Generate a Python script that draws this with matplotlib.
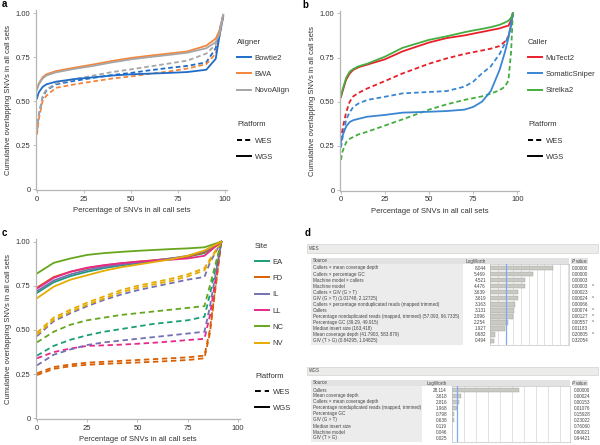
import numpy as np
import matplotlib.pyplot as plt
from matplotlib.lines import Line2D
from matplotlib.patches import Rectangle

plt.rcParams['font.family'] = ['Liberation Sans', 'DejaVu Sans']

# ---- panel a data ----
a_x = [0, 1, 3, 5, 10, 20, 30, 40, 50, 60, 70, 80, 90, 95, 97, 99]
a_aligners = ['Bowtie2', 'BWA', 'NovoAlign']
a_wgs = {
    'Bowtie2': [0.515, 0.55, 0.58, 0.595, 0.61, 0.625, 0.635, 0.645, 0.652, 0.656, 0.66, 0.665, 0.678, 0.74, 0.87, 0.98],
    'BWA': [0.57, 0.60, 0.635, 0.652, 0.67, 0.69, 0.708, 0.728, 0.745, 0.758, 0.77, 0.782, 0.815, 0.855, 0.90, 0.99],
    'NovoAlign': [0.565, 0.595, 0.628, 0.645, 0.663, 0.683, 0.70, 0.72, 0.737, 0.75, 0.762, 0.775, 0.80, 0.835, 0.88, 0.99],
}
a_wes = {
    'Bowtie2': [0.33, 0.42, 0.52, 0.56, 0.595, 0.615, 0.632, 0.648, 0.66, 0.675, 0.688, 0.70, 0.72, 0.80, 0.90, 0.99],
    'BWA': [0.31, 0.40, 0.50, 0.53, 0.575, 0.595, 0.612, 0.628, 0.64, 0.655, 0.668, 0.685, 0.71, 0.77, 0.87, 0.99],
    'NovoAlign': [0.33, 0.42, 0.53, 0.565, 0.60, 0.625, 0.645, 0.665, 0.68, 0.697, 0.713, 0.73, 0.77, 0.82, 0.90, 0.99],
}
a_colors = ['#1f6cc8', '#f5853a', '#a6a6a6']

# ---- panel b data ----
b_x = [0, 1, 3, 5, 7, 10, 15, 25, 35, 50, 60, 70, 75, 80, 85, 90, 93, 95, 96.5, 97.5]
b_callers = ['MuTect2', 'SomaticSniper', 'Strelka2']
b_wgs = {
    'MuTect2': [0.525, 0.56, 0.625, 0.66, 0.68, 0.695, 0.71, 0.74, 0.785, 0.835, 0.86, 0.875, 0.885, 0.895, 0.905, 0.915, 0.925, 0.93, 0.96, 1.0],
    'SomaticSniper': [0.27, 0.31, 0.36, 0.385, 0.395, 0.403, 0.415, 0.425, 0.438, 0.443, 0.447, 0.455, 0.47, 0.50, 0.56, 0.68, 0.78, 0.86, 0.94, 1.0],
    'Strelka2': [0.53, 0.57, 0.635, 0.67, 0.685, 0.70, 0.715, 0.755, 0.805, 0.85, 0.87, 0.893, 0.903, 0.912, 0.922, 0.935, 0.948, 0.958, 0.975, 1.0],
}
b_wes = {
    'MuTect2': [0.28, 0.35, 0.44, 0.50, 0.53, 0.55, 0.575, 0.617, 0.66, 0.715, 0.745, 0.77, 0.78, 0.79, 0.80, 0.815, 0.84, 0.87, 0.93, 1.0],
    'SomaticSniper': [0.24, 0.30, 0.40, 0.44, 0.47, 0.49, 0.51, 0.528, 0.547, 0.555, 0.56, 0.585, 0.613, 0.66, 0.70, 0.77, 0.83, 0.87, 0.93, 1.0],
    'Strelka2': [0.17, 0.22, 0.27, 0.29, 0.30, 0.315, 0.33, 0.365, 0.40, 0.455, 0.485, 0.51, 0.52, 0.53, 0.545, 0.565, 0.585, 0.62, 0.78, 1.0],
}
b_colors = ['#e8202a', '#3b86d1', '#45ad3f']

# ---- panel c data ----
c_x = [0, 8.3, 16.7, 25, 33.3, 41.7, 50, 58.3, 66.7, 75, 83.3, 91.7]
c_x_wes = [0, 8.3, 16.7, 25, 33.3, 41.7, 50, 58.3, 66.7, 75, 83.3, 86, 91.7]
c_sites = ['EA', 'FD', 'IL', 'LL', 'NC', 'NV']
c_wgs = {
    'EA': [0.71, 0.77, 0.805, 0.83, 0.85, 0.865, 0.878, 0.89, 0.90, 0.915, 0.935, 1.0],
    'FD': [0.74, 0.80, 0.83, 0.85, 0.865, 0.877, 0.887, 0.895, 0.905, 0.915, 0.94, 1.0],
    'IL': [0.72, 0.78, 0.815, 0.84, 0.857, 0.87, 0.882, 0.893, 0.905, 0.92, 0.945, 1.0],
    'LL': [0.735, 0.795, 0.83, 0.853, 0.867, 0.878, 0.886, 0.893, 0.898, 0.905, 0.92, 1.0],
    'NC': [0.82, 0.88, 0.905, 0.925, 0.935, 0.942, 0.948, 0.953, 0.958, 0.962, 0.968, 1.0],
    'NV': [0.68, 0.745, 0.785, 0.81, 0.835, 0.855, 0.87, 0.885, 0.90, 0.92, 0.95, 1.0],
}
# WES: some sites have two replicate curves
c_wes = [
    ('FD', [0.255, 0.29, 0.305, 0.315, 0.32, 0.325, 0.33, 0.335, 0.34, 0.345, 0.355, 0.50, 1.0]),
    ('FD', [0.245, 0.28, 0.295, 0.303, 0.308, 0.312, 0.316, 0.32, 0.325, 0.33, 0.34, 0.48, 1.0]),
    ('LL', [0.34, 0.375, 0.395, 0.41, 0.413, 0.417, 0.422, 0.428, 0.435, 0.443, 0.45, 0.58, 1.0]),
    ('IL', [0.30, 0.36, 0.39, 0.415, 0.43, 0.44, 0.45, 0.46, 0.47, 0.48, 0.49, 0.63, 1.0]),
    ('EA', [0.355, 0.41, 0.445, 0.47, 0.49, 0.505, 0.52, 0.535, 0.545, 0.555, 0.575, 0.70, 1.0]),
    ('NC', [0.43, 0.49, 0.53, 0.555, 0.57, 0.585, 0.595, 0.605, 0.615, 0.625, 0.635, 0.75, 1.0]),
    ('IL', [0.465, 0.55, 0.595, 0.635, 0.67, 0.70, 0.725, 0.745, 0.765, 0.785, 0.80, 0.88, 1.0]),
    ('NV', [0.473, 0.558, 0.603, 0.643, 0.678, 0.713, 0.738, 0.758, 0.778, 0.803, 0.838, 0.89, 1.0]),
    ('NV', [0.485, 0.57, 0.615, 0.655, 0.69, 0.725, 0.75, 0.77, 0.79, 0.815, 0.85, 0.90, 1.0]),
]
c_colors = ['#1b9e77', '#d95f02', '#7570b3', '#e7298a', '#66a61e', '#e6ab02']

# ---- panel d data ----
wes_src = ['Callers × mean coverage depth', 'Callers × percentage GC', 'Machine model × callers',
           'Machine model', 'Callers × GIV (G > T)', 'GIV (G > T) (1.01748, 2.12725)',
           'Callers × percentage nonduplicated reads (mapped trimmed)', 'Callers',
           'Percentage nonduplicated reads (mapped, trimmed) (57.093, 96.7335)',
           'Percentage GC (39.29, 49.915)', 'Median insert size (163,418)',
           'Mean coverage depth (41.7903, 583.879)', 'GIV (T > G) (0.84295, 1.04825)']
wes_logworth = [8.044, 5.469, 4.521, 4.476, 3.639, 3.619, 3.163, 3.131, 2.896, 2.254, 1.927, 0.682, 0.494]
wes_pval = ['0.00000', '0.00000', '0.00003', '0.00003', '0.00023', '0.00024', '0.00066',
            '0.00074', '0.00127', '0.00557', '0.01183', '0.20805', '0.32054']
wes_star = ['', '', '', '^', '', '^', '', '^', '^', '^', '', '^', '']
wgs_src = ['Callers', 'Mean coverage depth', 'Callers × mean coverage depth',
           'Percentage nonduplicated reads (mapped, trimmed)', 'Percentage GC', 'GIV (G > T)',
           'Median insert size', 'Machine model', 'GIV (T > G)']
wgs_logworth = [28.114, 3.618, 2.816, 1.968, 0.798, 0.638, 0.119, 0.046, 0.025]
wgs_pval = ['0.00000', '0.00024', '0.00153', '0.01076', '0.15928', '0.23022', '0.76060', '0.90021', '0.94421']

W, H = 600, 445
fig = plt.figure(figsize=(6, 4.45), dpi=100)
FS = 5.5
TXT = '#333333'


def box(l, t, r, b):
    return [l / W, 1 - b / H, (r - l) / W, (b - t) / H]


def fx(x):
    return x / W


def fy(y):
    return 1 - y / H


def style_axes(ax):
    ax.set_xlim(-0.5, 101)
    ax.set_ylim(-0.005, 1.015)
    ax.set_xticks([0, 25, 50, 75, 100])
    ax.set_yticks([0, 0.25, 0.5, 0.75, 1.0])
    ax.set_yticklabels(['0', '0.25', '0.50', '0.75', '1.00'])
    for s in ['top', 'right']:
        ax.spines[s].set_visible(False)
    for s in ['left', 'bottom']:
        ax.spines[s].set_color('#b5b5b5')
        ax.spines[s].set_linewidth(0.9)
    ax.tick_params(length=2, width=0.6, color='#b5b5b5', labelsize=FS, labelcolor=TXT, pad=2)
    ax.set_xlabel('Percentage of SNVs in all call sets', fontsize=FS, color=TXT, labelpad=3)
    ax.set_ylabel('Cumulative overlapping SNVs in all call sets', fontsize=FS, color=TXT, labelpad=3)


def legends(ax, title, names, colors, x, y_title, y_plat, dash):
    kw = dict(loc='upper left', bbox_transform=fig.transFigure, frameon=False, fontsize=FS,
              title_fontsize=FS, handlelength=1.8, handletextpad=0.5, labelspacing=1.17,
              borderpad=0, borderaxespad=0, alignment='left')
    h1 = [Line2D([], [], color=c, lw=1.4) for c in colors]
    l1 = ax.legend(h1, names, title=title, bbox_to_anchor=(fx(x), fy(y_title - 4.5)), **kw)
    ax.add_artist(l1)
    h2 = [Line2D([], [], color='black', lw=1.4, dashes=dash), Line2D([], [], color='black', lw=1.4)]
    l2 = ax.legend(h2, ['WES', 'WGS'], title='Platform', bbox_to_anchor=(fx(x), fy(y_plat - 4.5)), **kw)
    for lg in (l1, l2):
        for t in lg.get_texts():
            t.set_color(TXT)
        lg.get_title().set_color(TXT)


# panel a
ax = fig.add_axes(box(36, 10.4, 227, 190))
for name, col in zip(a_aligners, a_colors):
    ax.plot(a_x, a_wes[name], color=col, lw=1.3, dashes=(2.6, 1.6))
for name, col in zip(a_aligners, a_colors):
    ax.plot(a_x, a_wgs[name], color=col, lw=1.3)
style_axes(ax)
legends(ax, 'Aligner', a_aligners, a_colors, 237, 43, 126, (2.6, 1.6))

# panel b
ax = fig.add_axes(box(340, 10.7, 519, 190.9))
for name, col in zip(b_callers, b_colors):
    ax.plot(b_x, b_wes[name], color=col, lw=1.3, dashes=(2.6, 1.6))
for name, col in zip(b_callers, b_colors):
    ax.plot(b_x, b_wgs[name], color=col, lw=1.3)
style_axes(ax)
legends(ax, 'Caller', b_callers, b_colors, 528, 43, 126, (2.6, 1.6))

# panel c
ax = fig.add_axes(box(36, 239, 240, 419.2))
cmap = dict(zip(c_sites, c_colors))
for site, vals in c_wes:
    ax.plot(c_x_wes, vals, color=cmap[site], lw=1.3, dashes=(3.0, 2.0))
for site in c_sites:
    ax.plot(c_x, c_wgs[site], color=cmap[site], lw=1.3)
style_axes(ax)
legends(ax, 'Site', c_sites, c_colors, 255, 247, 377, (3.0, 2.0))

for lab, x, y in [('a', 2, 4), ('b', 302, 5), ('c', 2, 233), ('d', 305, 233)]:
    fig.text(fx(x), fy(y), lab, fontsize=7, weight='bold', va='center', ha='left')

# panel d
TS = 3.3
GRAYTXT = '#444444'


def table(hdr_t, hdr_b, label, band_y, row0, dy, src, lw_vals, pvals, stars,
          src_r, lw_r, bar_l, bar_r, bar_b, xmax, step, pv_x):
    n = len(src)
    fig.patches.append(Rectangle((fx(307), fy(hdr_b)), (598 - 307) / W, (hdr_b - hdr_t) / H,
                                 transform=fig.transFigure, facecolor='#ececea', edgecolor='#d2d2d2', lw=0.5))
    fig.text(fx(309), fy((hdr_t + hdr_b) / 2), label, fontsize=TS, color=GRAYTXT, va='center')
    # source column background
    fig.patches.append(Rectangle((fx(311), fy(bar_b)), (src_r - 311) / W, (bar_b - band_y + 3) / H,
                                 transform=fig.transFigure, facecolor='#ececec', edgecolor='none'))
    # header band
    fig.patches.append(Rectangle((fx(311), fy(band_y + 3)), (bar_r - 311) / W, 6 / H,
                                 transform=fig.transFigure, facecolor='#e2e2e2', edgecolor='none'))
    fig.patches.append(Rectangle((fx(pv_x - 1), fy(band_y + 3)), (589 - pv_x) / W, 6 / H,
                                 transform=fig.transFigure, facecolor='#e2e2e2', edgecolor='none'))
    fig.text(fx(313), fy(band_y), 'Source', fontsize=TS, color=GRAYTXT, va='center')
    fig.text(fx(lw_r), fy(band_y), 'LogWorth', fontsize=TS, color=GRAYTXT, va='center', ha='right')
    fig.text(fx(588), fy(band_y), r'$P$ value', fontsize=TS, color=GRAYTXT, va='center', ha='right')
    for i in range(n):
        y = fy(row0 + i * dy)
        fig.text(fx(313), y, src[i], fontsize=TS, color=GRAYTXT, va='center')
        fig.text(fx(lw_r), y, f'{lw_vals[i]:.3f}', fontsize=TS, color=GRAYTXT, va='center', ha='right')
        fig.text(fx(pv_x), y, pvals[i], fontsize=TS, color=GRAYTXT, va='center')
        if stars is not None and stars[i]:
            fig.text(fx(592), y, stars[i], fontsize=TS, color=GRAYTXT, va='center')
    bax = fig.add_axes(box(bar_l, band_y + 3, bar_r, bar_b))
    bax.barh(np.arange(n), lw_vals, height=0.72, color='#cacac4', edgecolor='#9c9c9c', lw=0.3, zorder=3)
    bax.axvline(2, color='#7ea8ef', lw=0.9, zorder=4)
    bax.set_xlim(0, xmax)
    top = (row0 - band_y - 3) / dy
    bot = (bar_b - row0) / dy
    bax.set_ylim(bot, -top)
    bax.set_xticks(np.arange(step, xmax, step))
    bax.set_yticks([])
    bax.tick_params(length=0, labelbottom=False)
    bax.grid(axis='x', color='#d6d6d6', lw=0.5, zorder=0)
    for s in bax.spines.values():
        s.set_color('#c4c4c4')
        s.set_linewidth(0.5)


table(244, 253, 'WES', 261, 268, 6.06, wes_src, wes_logworth, wes_pval, wes_star,
      463, 486, 490, 569, 345, 10.15, 1, 572)
table(367, 375, 'WGS', 383, 390, 6.0, wgs_src, wgs_logworth, wgs_pval, None,
      422, 447, 452, 570, 441.7, 49.2, 5, 574)

fig.savefig('out.png', dpi=100)
